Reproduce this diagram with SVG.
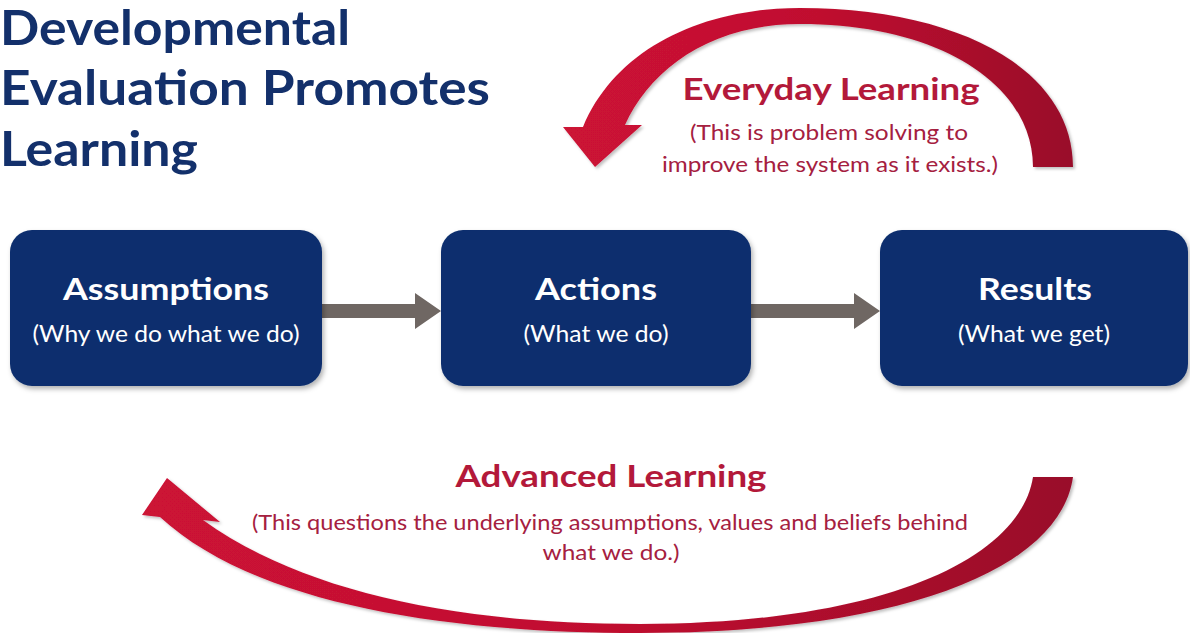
<svg xmlns="http://www.w3.org/2000/svg" width="1190" height="633" viewBox="0 0 1190 633">
<style>
.title{font-family:Lato,"Open Sans",sans-serif;font-weight:700;font-size:48px;fill:#13306b}
.bt{font-family:Lato,"Open Sans",sans-serif;font-weight:700;font-size:30px;fill:#fff;text-anchor:middle}
.bs{font-family:Lato,"Open Sans",sans-serif;font-size:23px;fill:#fff;text-anchor:middle}
.rt{font-family:Lato,"Open Sans",sans-serif;font-weight:700;font-size:30px;fill:#b3193a;text-anchor:middle}
.rs{font-family:Lato,"Open Sans",sans-serif;font-size:22px;fill:#a5203f;text-anchor:middle}
.box{fill:#0c2f6e;filter:url(#sh)}
.conn{fill:#6f6763}
.arc{filter:url(#sh2)}
</style>
<defs>
<filter id="sh" x="-10%" y="-10%" width="125%" height="130%">
<feDropShadow dx="2" dy="3" stdDeviation="2.5" flood-color="#000" flood-opacity="0.3"/>
</filter>
<filter id="sh2" x="-10%" y="-10%" width="125%" height="130%">
<feDropShadow dx="2" dy="2" stdDeviation="1.5" flood-color="#000" flood-opacity="0.25"/>
</filter>
<linearGradient id="rg" x1="0" y1="0" x2="1" y2="0">
<stop offset="0" stop-color="#cc1236"/>
<stop offset="0.5" stop-color="#c0102f"/>
<stop offset="1" stop-color="#990b2a"/>
</linearGradient>
</defs>
<rect width="1190" height="633" fill="#fff"/>
<g id="title">
<text class="title" x="0" y="45" font-size="46" textLength="350" lengthAdjust="spacingAndGlyphs">Developmental</text>
<text class="title" x="0" y="105" textLength="490" lengthAdjust="spacingAndGlyphs">Evaluation Promotes</text>
<text class="title" x="0" y="166" textLength="198" lengthAdjust="spacingAndGlyphs">Learning</text>
</g>
<g id="connectors">
<path class="conn" d="M322,304 H415 V293 L441,311 L415,329 V318 H322 Z"/>
<path class="conn" d="M751,304 H854 V293 L880,311 L854,329 V318 H751 Z"/>
<path id="everyday-arrow" class="arc" fill="url(#rg)" d="M1073,167 C1073,70 960,8 800,8 C700,8 615,50 583,127 L563,127 L595,167 L642,125 L625,125 C650,70 710,24 800,24 C940,24 1033,85 1033,167 Z"/>
<path id="advanced-arrow" class="arc" fill="url(#rg)" d="M1073,477 C1060,570 900,633 640,633 C430,633 250,600 160,517 L142,515 L167,478 L220,522 L203,520 C300,590 450,624 640,624 C880,624 1020,560 1033,477 Z"/>
</g>
<g id="assumptions">
<rect class="box" x="10" y="230" width="312" height="156" rx="22"/>
<text class="bt" x="166" y="300" textLength="206" lengthAdjust="spacingAndGlyphs">Assumptions</text>
<text class="bs" x="166" y="342" textLength="267" lengthAdjust="spacingAndGlyphs">(Why we do what we do)</text>
</g>
<g id="actions">
<rect class="box" x="441" y="230" width="310" height="156" rx="22"/>
<text class="bt" x="596" y="300" textLength="122" lengthAdjust="spacingAndGlyphs">Actions</text>
<text class="bs" x="596" y="342" textLength="145" lengthAdjust="spacingAndGlyphs">(What we do)</text>
</g>
<g id="results">
<rect class="box" x="880" y="230" width="308" height="156" rx="22"/>
<text class="bt" x="1035" y="300" textLength="114" lengthAdjust="spacingAndGlyphs">Results</text>
<text class="bs" x="1034" y="342" textLength="152" lengthAdjust="spacingAndGlyphs">(What we get)</text>
</g>
<g id="everyday-learning">
<text class="rt" x="831" y="100" textLength="297" lengthAdjust="spacingAndGlyphs">Everyday Learning</text>
<text class="rs" x="829" y="140" textLength="278" lengthAdjust="spacingAndGlyphs">(This is problem solving to</text>
<text class="rs" x="830" y="172" textLength="336" lengthAdjust="spacingAndGlyphs">improve the system as it exists.)</text>
</g>
<g id="advanced-learning">
<text class="rt" x="611" y="487" textLength="311" lengthAdjust="spacingAndGlyphs">Advanced Learning</text>
<text class="rs" x="610" y="530" textLength="716" lengthAdjust="spacingAndGlyphs">(This questions the underlying assumptions, values and beliefs behind</text>
<text class="rs" x="611" y="560" textLength="137" lengthAdjust="spacingAndGlyphs">what we do.)</text>
</g>
</svg>
